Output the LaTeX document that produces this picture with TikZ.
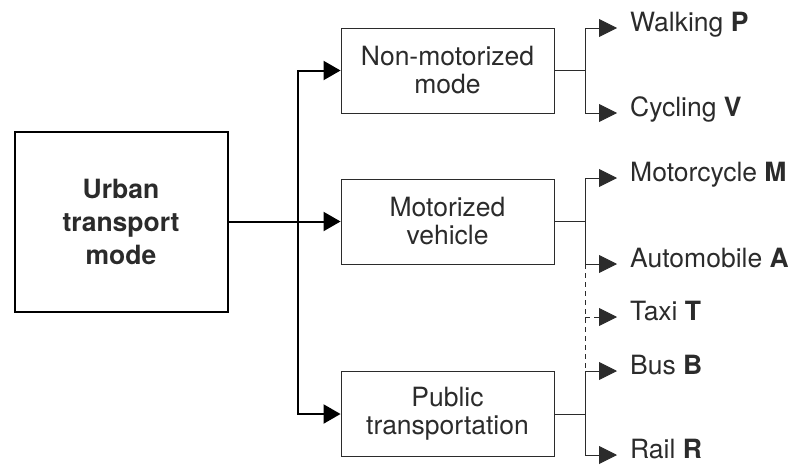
\documentclass[tikz,border=0pt]{standalone}
\usepackage{fontspec}
\setmainfont{TeX Gyre Heros}
\usetikzlibrary{arrows.meta}
\definecolor{ink}{gray}{0.17}
\begin{document}
\begin{tikzpicture}[x=1pt,y=-1pt,
  every node/.style={text=ink},
  mainbox/.style={draw=black,line width=2pt,minimum width=213pt,minimum height=180pt,
    align=center,font=\bfseries\fontsize{26.5}{33}\selectfont},
  modebox/.style={draw=ink,line width=0.9pt,minimum width=213pt,minimum height=85pt,
    align=center,font=\fontsize{26.5}{28}\selectfont},
  leaf/.style={anchor=west,inner xsep=13pt,inner ysep=0pt,text height=0.7em,text depth=0.1em,
    font=\fontsize{26.5}{28}\selectfont},
  trunk/.style={draw=black,line width=2pt},
  trunkarr/.style={trunk,-{Triangle[length=17pt,width=19pt]}},
  branch/.style={draw=ink,line width=0.9pt},
  leafarr/.style={branch,-{Triangle[length=18pt,width=18pt]}},
]
\useasboundingbox (0,0) rectangle (794,466);

% root and the three mode groups
\node[mainbox] (urban) at (121,221.5) {Urban\\transport\\mode};
\node[modebox] (nm) at (447.5,70.5) {Non-motorized\\mode};
\node[modebox] (mv) at (447.5,221.5) {Motorized\\vehicle};
\node[modebox] (pt) at (447.5,414) {Public\\transportation};

% individual modes
\node[leaf] (walk) at (617,28)  {Walking \textbf{P}};
\node[leaf] (cyc)  at (617,113) {Cycling \textbf{V}};
\node[leaf] (moto) at (617,178) {Motorcycle \textbf{M}};
\node[leaf] (auto) at (617,264) {Automobile \textbf{A}};
\node[leaf] (taxi) at (617,317) {Taxi \textbf{T}};
\node[leaf] (bus)  at (617,371) {Bus \textbf{B}};
\node[leaf] (rail) at (617,455) {Rail \textbf{R}};

\coordinate (split) at (298,0);
\coordinate (hub) at (585,0);

% root to mode groups
\draw[trunkarr] (urban.east) -- (mv.west);
\draw[trunkarr] (urban.east -| split) |- (nm.west);
\draw[trunkarr] (urban.east -| split) |- (pt.west);

% mode groups to individual modes
\draw[branch] (nm.east) -- (nm.east -| hub);
\draw[leafarr] (nm.east -| hub) |- (walk.west);
\draw[leafarr] (nm.east -| hub) |- (cyc.west);

\draw[branch] (mv.east) -- (mv.east -| hub);
\draw[leafarr] (mv.east -| hub) |- (moto.west);
\draw[leafarr] (mv.east -| hub) |- (auto.west);

\draw[branch] (pt.east) -- (pt.east -| hub);
\draw[leafarr] (pt.east -| hub) |- (bus.west);
\draw[leafarr] (pt.east -| hub) |- (rail.west);

% taxi sits between private and public transport
\draw[branch,dash pattern=on 5pt off 4pt] (hub |- auto.west) -- (hub |- bus.west);
\draw[leafarr,dash pattern=on 5pt off 4pt] (hub |- taxi.west) -- (taxi.west);
\end{tikzpicture}
\end{document}
